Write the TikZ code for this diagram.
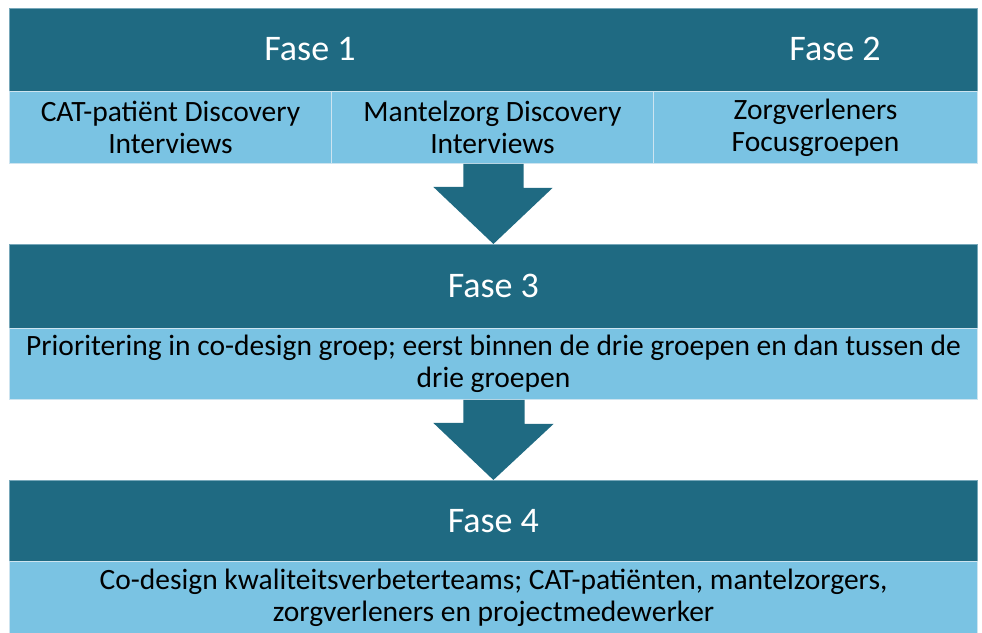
\documentclass[tikz,border=0pt]{standalone}
\usepackage{fontspec}
\setmainfont{Carlito}
\usetikzlibrary{calc}
\definecolor{darkteal}{RGB}{31,106,130}
\definecolor{lightcell}{RGB}{122,195,227}
\definecolor{cellline}{RGB}{205,228,240}
\begin{document}
\begin{tikzpicture}[x=1pt,y=1pt,
  band/.style={fill=darkteal, draw=cellline!50!darkteal, line width=0.8pt, anchor=north west,
    inner sep=0pt, minimum width=968, text=white, font=\fontsize{36}{40}\selectfont},
  cell/.style={fill=lightcell, draw=cellline, line width=1pt, anchor=north west, inner sep=0pt,
    align=center, text=black, font=\fontsize{29.5}{32}\selectfont},
  phase/.style={text=white, font=\fontsize{36}{40}\selectfont, inner sep=0pt},
  blockarrow/.style={fill=darkteal}]
\useasboundingbox (0,0) rectangle (982,632);
% Fase 1 / 2
\node[band, minimum height=83] (b1) at (9,624) {};
\node[phase] (f1) at (310,583) {Fase 1};
\node[phase] (f2) at (835,583) {Fase 2};
\node[cell, minimum width=322, minimum height=72] (c1) at (9,541) {CAT-patiënt Discovery\\Interviews};
\node[cell, minimum width=322, minimum height=72] (c2) at (331,541) {Mantelzorg Discovery\\Interviews};
\node[cell, minimum width=324, minimum height=72] (c3) at (653,541) {Zorgverleners\\Focusgroepen};
% Fase 3
\node[band, minimum height=84] (b3) at (9,388) {Fase 3};
\node[cell, minimum width=968, minimum height=71] (c4) at (9,304) {Prioritering in co-design groep; eerst binnen de drie groepen en dan tussen de\\drie groepen};
% Fase 4
\node[band, minimum height=81] (b4) at (9,152) {Fase 4};
\node[cell, minimum width=968, minimum height=72] (c5) at (9,71) {Co-design kwaliteitsverbeterteams; CAT-patiënten, mantelzorgers,\\zorgverleners en projectmedewerker};
% block arrows
\fill[blockarrow] (b3.north) -- ++(-60,57) -- ++(30,0) |- (c2.south) -| ++(31,-24) -- ++(29,0) -- cycle;
\fill[blockarrow] (b4.north) -- ++(-60,57) -- ++(30,0) |- (c4.south) -| ++(31,-24) -- ++(29,0) -- cycle;
\end{tikzpicture}
\end{document}
